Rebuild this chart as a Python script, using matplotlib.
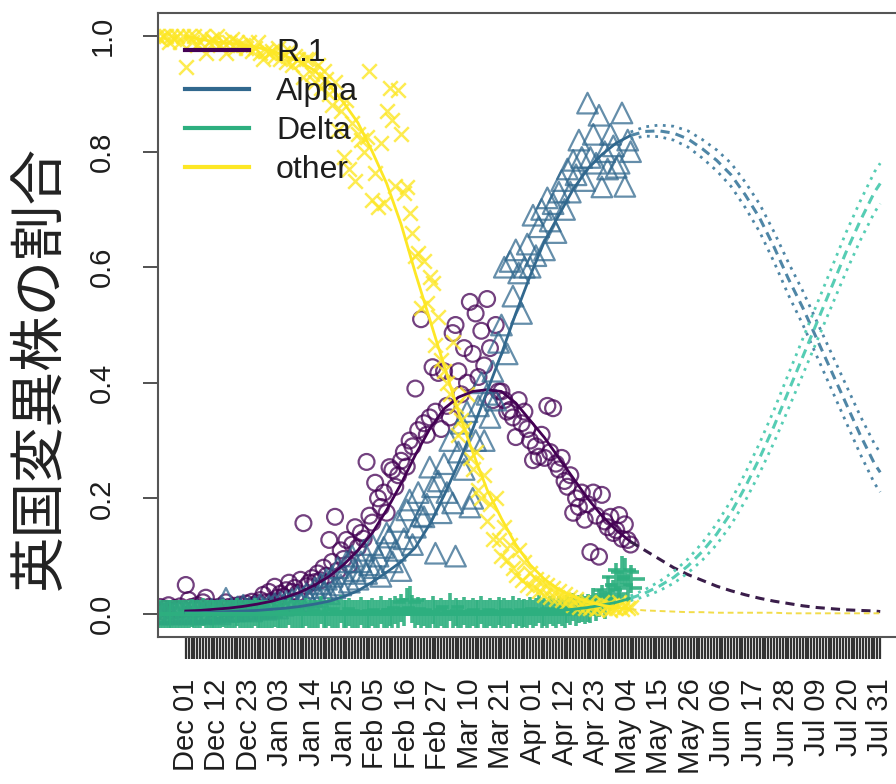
import matplotlib.pyplot as plt
import numpy as np
from matplotlib.lines import Line2D

plt.rcParams['font.family'] = ['Liberation Sans', 'DejaVu Sans']

# x axis: days since 2020-12-01, labelled every 11 days
tick_labels = ['Dec 01', 'Dec 12', 'Dec 23', 'Jan 03', 'Jan 14', 'Jan 25', 'Feb 05',
               'Feb 16', 'Feb 27', 'Mar 10', 'Mar 21', 'Apr 01', 'Apr 12', 'Apr 23',
               'May 04', 'May 15', 'May 26', 'Jun 06', 'Jun 17', 'Jun 28', 'Jul 09',
               'Jul 20', 'Jul 31']
label_step = 11
last_day = 242

variants = ['R.1', 'Alpha', 'Delta', 'other']
colors = ['#440154', '#31688E', '#2DAF7F', '#FDE725']
proj_colors = ['#3a1d4a', '#4f86a6', '#56cdb4', '#f2dc4a']

# daily observed proportions, starting 10 days before Dec 01
obs_start = -10
r1_obs = [
    0.006, 0.012, 0.004, 0.009, 0.015, 0.005, 0.01, 0.007, 0.013, 0.008,
    0.05, 0.024, 0.012, 0.008, 0.015, 0.01, 0.02, 0.028, 0.012, 0.009,
    0.011, 0.007, 0.013, 0.01, 0.02, 0.012, 0.009, 0.014, 0.011, 0.016,
    0.013, 0.018, 0.012, 0.021, 0.015, 0.019, 0.024, 0.033, 0.02, 0.038,
    0.022, 0.047, 0.028, 0.035, 0.03, 0.041, 0.054, 0.038, 0.045, 0.036,
    0.059, 0.157, 0.048, 0.054, 0.062, 0.055, 0.07, 0.058, 0.08, 0.066,
    0.128, 0.09, 0.168, 0.075, 0.11, 0.095, 0.128, 0.085, 0.12, 0.15,
    0.115, 0.14, 0.13, 0.263, 0.17, 0.158, 0.227, 0.2, 0.185, 0.21,
    0.175, 0.254, 0.249, 0.22, 0.24, 0.265, 0.28, 0.255, 0.3, 0.29,
    0.39, 0.318, 0.51, 0.33, 0.31, 0.34, 0.427, 0.35, 0.417, 0.32,
    0.42, 0.36, 0.34, 0.486, 0.5, 0.42, 0.38, 0.46, 0.40, 0.54,
    0.45, 0.52, 0.41, 0.49, 0.43, 0.545, 0.46, 0.37, 0.5, 0.385,
    0.385, 0.37, 0.35, 0.353, 0.34, 0.306, 0.37, 0.33, 0.35, 0.32,
    0.3, 0.266, 0.29, 0.272, 0.31, 0.27, 0.36, 0.28, 0.356, 0.26,
    0.25, 0.27, 0.23, 0.22, 0.24, 0.175, 0.2, 0.185, 0.21, 0.163,
    0.19, 0.107, 0.21, 0.17, 0.099, 0.206, 0.16, 0.15, 0.168, 0.14,
    0.145, 0.171, 0.13, 0.155, 0.128, 0.12,
]
alpha_obs = [
    0.0, 0.003, 0.0, 0.001, 0.004, 0.0, 0.002, 0.0, 0.005, 0.001,
    0.002, 0.0, 0.004, 0.0, 0.006, 0.003, 0.0, 0.005, 0.002, 0.008,
    0.003, 0.006, 0.0, 0.01, 0.027, 0.004, 0.008, 0.005, 0.012, 0.006,
    0.015, 0.008, 0.01, 0.005, 0.013, 0.009, 0.016, 0.011, 0.008, 0.014,
    0.012, 0.018, 0.01, 0.02, 0.015, 0.022, 0.017, 0.025, 0.019, 0.03,
    0.021, 0.028, 0.035, 0.024, 0.032, 0.045, 0.03, 0.052, 0.038, 0.06,
    0.035, 0.065, 0.045, 0.08, 0.05, 0.07, 0.09, 0.055, 0.1, 0.075,
    0.06, 0.09, 0.11, 0.07, 0.085, 0.12, 0.08, 0.1, 0.065, 0.115,
    0.14, 0.133, 0.09, 0.11, 0.16, 0.075, 0.13, 0.18, 0.197, 0.12,
    0.15, 0.21, 0.17, 0.168, 0.19, 0.254, 0.22, 0.105, 0.23, 0.175,
    0.26, 0.21, 0.3, 0.192, 0.1, 0.28, 0.33, 0.25, 0.35, 0.185,
    0.2, 0.3, 0.36, 0.4, 0.3, 0.38, 0.34, 0.42, 0.37, 0.47,
    0.5, 0.6, 0.45, 0.61, 0.55, 0.63, 0.59, 0.52, 0.6, 0.64,
    0.6, 0.69, 0.62, 0.67, 0.7, 0.63, 0.72, 0.68, 0.71, 0.66,
    0.73, 0.75, 0.7, 0.77, 0.73, 0.785, 0.76, 0.82, 0.79, 0.75,
    0.884, 0.79, 0.83, 0.78, 0.863, 0.739, 0.8, 0.77, 0.83, 0.81,
    0.773, 0.78, 0.867, 0.74, 0.82, 0.8,
]
delta_obs = [
    0.0, 0.0, 0.0, 0.0, 0.0, 0.0, 0.0, 0.0, 0.0, 0.0,
    0.0, 0.0, 0.002, 0.0, 0.0, 0.0, 0.003, 0.0, 0.0, 0.0,
    0.0, 0.0, 0.0, 0.002, 0.0, 0.0, 0.0, 0.0, 0.004, 0.0,
    0.0, 0.0, 0.0, 0.0, 0.003, 0.0, 0.0, 0.0, 0.0, 0.0,
    0.0, 0.002, 0.0, 0.0, 0.0, 0.0, 0.005, 0.0, 0.0, 0.0,
    0.0, 0.0, 0.003, 0.0, 0.0, 0.0, 0.0, 0.006, 0.0, 0.0,
    0.004, 0.0, 0.0, 0.0, 0.008, 0.0, 0.0, 0.003, 0.0, 0.0,
    0.0, 0.005, 0.0, 0.0, 0.0, 0.004, 0.0, 0.0, 0.007, 0.0,
    0.0, 0.004, 0.0, 0.006, 0.0, 0.01, 0.003, 0.02, 0.024, 0.008,
    0.0, 0.005, 0.0, 0.003, 0.0, 0.0, 0.006, 0.0, 0.0, 0.004,
    0.0, 0.0, 0.012, 0.0, 0.003, 0.0, 0.0, 0.005, 0.0, 0.0,
    0.004, 0.0, 0.0, 0.006, 0.0, 0.0, 0.003, 0.0, 0.0, 0.005,
    0.0, 0.003, 0.0, 0.0, 0.006, 0.0, 0.004, 0.0, 0.002, 0.0,
    0.005, 0.0, 0.003, 0.008, 0.0, 0.004, 0.0, 0.006, 0.003, 0.0,
    0.007, 0.004, 0.0, 0.009, 0.005, 0.012, 0.003, 0.008, 0.01, 0.006,
    0.01, 0.008, 0.02, 0.012, 0.019, 0.025, 0.015, 0.042, 0.03, 0.035,
    0.064, 0.05, 0.076, 0.073, 0.045, 0.06,
]
other_obs = [
    1.0, 0.995, 1.0, 1.0, 0.99, 1.0, 0.995, 1.0, 0.99, 1.0,
    0.946, 1.0, 0.99, 1.0, 0.985, 0.99, 1.0, 0.97, 0.99, 0.995,
    0.99, 1.0, 0.985, 0.99, 0.97, 0.99, 0.995, 0.98, 0.99, 0.985,
    0.985, 0.98, 0.99, 0.975, 0.98, 0.99, 0.97, 0.96, 0.975, 0.97,
    0.975, 0.965, 0.98, 0.96, 0.97, 0.955, 0.975, 0.95, 0.965, 0.96,
    0.955, 0.93, 0.96, 0.96, 0.935, 0.92, 0.95, 0.91, 0.94, 0.925,
    0.9, 0.88, 0.92, 0.837, 0.87, 0.79, 0.89, 0.77, 0.85, 0.75,
    0.83, 0.82, 0.8, 0.825, 0.94, 0.716, 0.763, 0.704, 0.815, 0.711,
    0.87, 0.91, 0.855, 0.74, 0.906, 0.83, 0.728, 0.739, 0.694, 0.66,
    0.62, 0.625, 0.53, 0.61, 0.538, 0.583, 0.573, 0.465, 0.514, 0.44,
    0.42, 0.4, 0.38, 0.47, 0.36, 0.31, 0.335, 0.32, 0.38, 0.27,
    0.25, 0.28, 0.215, 0.2, 0.24, 0.16, 0.19, 0.13, 0.2, 0.128,
    0.1, 0.15, 0.093, 0.12, 0.08, 0.067, 0.11, 0.059, 0.09, 0.05,
    0.07, 0.045, 0.06, 0.04, 0.055, 0.033, 0.05, 0.03, 0.045, 0.025,
    0.04, 0.024, 0.035, 0.02, 0.03, 0.015, 0.025, 0.012, 0.02, 0.01,
    0.018, 0.01, 0.015, 0.008, 0.012, 0.02, 0.01, 0.015, 0.006, 0.012,
    0.01, 0.02, 0.008, 0.015, 0.01, 0.012,
]

# fitted / projected proportions (read every 5 days)
fit_days = [0, 5, 10, 15, 20, 25, 30, 35, 40, 45, 50, 55, 60, 65, 70, 75, 80, 85,
            90, 95, 100, 105, 110, 115, 120, 125, 130, 135, 140, 145, 150, 155,
            160, 165, 170, 175, 180, 185, 190, 195, 200, 205, 210, 215, 220, 225,
            230, 235, 240, 242]
r1_fit = [0.005, 0.006, 0.008, 0.01, 0.013, 0.017, 0.022, 0.029, 0.038, 0.05,
          0.065, 0.085, 0.11, 0.14, 0.18, 0.225, 0.275, 0.32, 0.355, 0.375,
          0.385, 0.388, 0.385, 0.365, 0.335, 0.305, 0.27, 0.235, 0.2, 0.17,
          0.145, 0.125, 0.11, 0.095, 0.08, 0.068, 0.058, 0.048, 0.04, 0.033,
          0.027, 0.022, 0.018, 0.014, 0.011, 0.009, 0.007, 0.006, 0.005, 0.004]
alpha_fit = [0.002, 0.002, 0.003, 0.004, 0.005, 0.006, 0.008, 0.01, 0.013, 0.017,
             0.022, 0.03, 0.04, 0.055, 0.072, 0.09, 0.115, 0.155, 0.205, 0.26,
             0.32, 0.385, 0.45, 0.52, 0.585, 0.645, 0.69, 0.735, 0.77, 0.795,
             0.815, 0.828, 0.835, 0.836, 0.832, 0.822, 0.805, 0.785, 0.76, 0.725,
             0.685, 0.635, 0.58, 0.53, 0.475, 0.42, 0.365, 0.31, 0.26, 0.245]
delta_fit = [0.001, 0.001, 0.001, 0.001, 0.001, 0.001, 0.001, 0.001, 0.001, 0.001,
             0.001, 0.001, 0.001, 0.001, 0.001, 0.001, 0.001, 0.001, 0.001, 0.001,
             0.001, 0.001, 0.001, 0.002, 0.003, 0.004, 0.006, 0.008, 0.011, 0.015,
             0.02, 0.027, 0.036, 0.048, 0.063, 0.083, 0.108, 0.138, 0.175, 0.22,
             0.27, 0.325, 0.385, 0.445, 0.505, 0.565, 0.625, 0.68, 0.73, 0.745]
other_fit = [1.0, 0.995, 0.99, 0.988, 0.985, 0.98, 0.975, 0.965, 0.955, 0.94,
             0.915, 0.885, 0.85, 0.8, 0.745, 0.675, 0.59, 0.51, 0.43, 0.35,
             0.28, 0.215, 0.165, 0.12, 0.085, 0.06, 0.042, 0.03, 0.021, 0.015,
             0.011, 0.008, 0.006, 0.005, 0.004, 0.003, 0.003, 0.002, 0.002, 0.002,
             0.002, 0.002, 0.001, 0.001, 0.001, 0.001, 0.001, 0.001, 0.001, 0.001]
proj_start = 155
# half-widths of the projection bands from May 04 onward
alpha_band = [0.006, 0.008, 0.01, 0.012, 0.014, 0.016, 0.018, 0.02, 0.022, 0.024,
              0.026, 0.028, 0.029, 0.03, 0.031, 0.032, 0.033, 0.034, 0.034]
delta_band = [0.004, 0.006, 0.008, 0.01, 0.012, 0.015, 0.018, 0.021, 0.024, 0.026,
              0.028, 0.03, 0.031, 0.032, 0.033, 0.034, 0.034, 0.035, 0.035]

obs = [r1_obs, alpha_obs, delta_obs, other_obs]
fits = [r1_fit, alpha_fit, delta_fit, other_fit]
bands = [None, alpha_band, delta_band, None]
markers = ['o', '^', '+', 'x']
sizes = [130, 220, 380, 110]
widths = [1.6, 1.6, 2.6, 1.8]
alphas = [0.75, 0.75, 0.9, 0.8]

fig = plt.figure(figsize=(8.96, 7.84), dpi=100)
ax = fig.add_axes([158 / 896, 147 / 784, 750 / 896, 624 / 784])

obs_days = np.arange(obs_start, obs_start + len(r1_obs))
for vals, c, m, s, w, a in zip(obs, colors, markers, sizes, widths, alphas):
    if m in ('o', '^'):
        ax.scatter(obs_days, vals, s=s, marker=m, facecolors='none', edgecolors=c,
                   linewidths=w, alpha=a, zorder=2)
    else:
        ax.scatter(obs_days, vals, s=s, marker=m, color=c, linewidths=w,
                   alpha=a, zorder=2)

fd = np.array(fit_days)
split = fit_days.index(proj_start)
for i, (fit, band, c, pc) in enumerate(zip(fits, bands, colors, proj_colors)):
    fit = np.array(fit)
    ax.plot(fd[:split + 1], fit[:split + 1], color=c, lw=2, zorder=3)
    lw = 1.4 if variants[i] == 'other' else 2.2
    ax.plot(fd[split:], fit[split:], color=pc, lw=lw, ls=(0, (3, 2)), zorder=3)
    if band is not None:
        band = np.array(band)
        ax.plot(fd[split:], fit[split:] + band, color=pc, lw=2, ls=(0, (1, 2)), zorder=3)
        ax.plot(fd[split:], fit[split:] - band, color=pc, lw=2, ls=(0, (1, 2)), zorder=3)

ax.set_xlim(-0.04 * last_day, 1.04 * last_day)
ax.set_ylim(-0.04, 1.04)

all_days = np.arange(0, last_day + 1)
ax.set_xticks(all_days)
ax.set_xticklabels([tick_labels[d // label_step] if d % label_step == 0 else ''
                    for d in all_days])
ax.tick_params(axis='x', length=16, width=1.6, color='#333333', labelsize=21,
               labelrotation=90, pad=14, labelcolor='#1e1e1e')

yt = [0.0, 0.2, 0.4, 0.6, 0.8, 1.0]
ax.set_yticks(yt)
ax.set_yticklabels([f'{v:.1f}' for v in yt], rotation=90, va='center')
ax.tick_params(axis='y', length=11, width=1.2, color='#333333', labelsize=21,
               pad=19, labelcolor='#1e1e1e')

for sp in ax.spines.values():
    sp.set_color('#555555')
    sp.set_linewidth(1.5)

fig.text(40 / 896, 1 - 368 / 784, '英国変異株の割合', rotation=90, fontsize=40,
         family=['Noto Sans CJK JP', 'DejaVu Sans'], ha='center', va='center',
         color='#222222')

handles = [Line2D([0], [0], color=c, lw=3) for c in colors]
leg = fig.legend(handles, variants, loc='upper left',
                 bbox_to_anchor=(185 / 896, 1 - 38 / 784), frameon=False,
                 fontsize=23, handlelength=2.0, handletextpad=0.85,
                 labelspacing=0.28, borderpad=0, borderaxespad=0)
for t in leg.get_texts():
    t.set_color('#1e1e1e')

fig.savefig('out.png', dpi=100)
